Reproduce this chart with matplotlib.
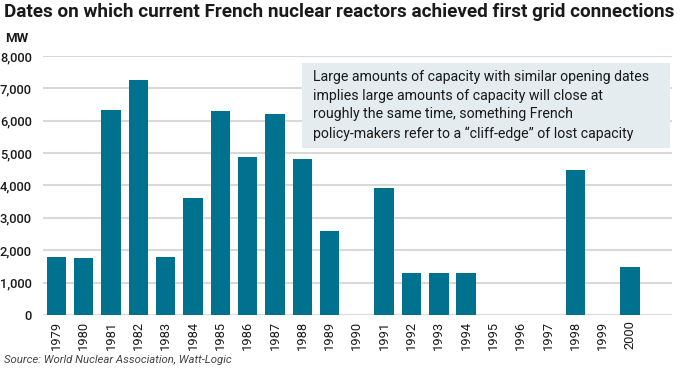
import matplotlib
matplotlib.use("Agg")
import matplotlib.pyplot as plt
from matplotlib.patches import Rectangle
from matplotlib.ticker import FuncFormatter

# Data
years = [str(y) for y in range(1979, 2001)]
capacity_mw = [1790, 1750, 6340, 7260, 1790, 3615, 6300, 4890, 6200, 4810, 2600,
               0, 3930, 1290, 1310, 1290, 0, 0, 0, 4480, 0, 1490]
y_ticks = [0, 1000, 2000, 3000, 4000, 5000, 6000, 7000, 8000]

title = "Dates on which current French nuclear reactors achieved first grid connections"
note = ("Large amounts of capacity with similar opening dates\n"
        "implies large amounts of capacity will close at\n"
        "roughly the same time, something French\n"
        "policy-makers refer to a \u201ccliff-edge\u201d of lost capacity")
source = "Source: World Nuclear Association, Watt-Logic"

plt.rcParams["font.family"] = ["Roboto", "DejaVu Sans"]

bar_color = "#00728f"
grid_color = "#d9d9d9"
text_color = "#1a1a1a"

fig = plt.figure(figsize=(6.8, 3.72), dpi=100)
ax = fig.add_axes([0.0632, 0.1532, 0.9248, 0.6963])

x = list(range(len(years)))
ax.bar(x, capacity_mw, width=0.71, color=bar_color, zorder=3)

ax.set_xlim(-0.49, 22.53)
ax.set_ylim(0, 8000)
ax.set_yticks(y_ticks)
ax.yaxis.set_major_formatter(FuncFormatter(lambda v, p: f"{int(v):,}"))
ax.set_xticks(x)
ax.set_xticklabels(years, rotation=90)
ax.tick_params(axis="both", length=0, labelsize=9.3, colors=text_color)
ax.tick_params(axis="y", pad=8)
ax.tick_params(axis="x", pad=4)
ax.yaxis.grid(True, color=grid_color, linewidth=1.5, zorder=0)
ax.set_axisbelow(True)
for s in ax.spines.values():
    s.set_visible(False)
for lbl in ax.get_yticklabels():
    lbl.set_fontweight("medium")

fig.text(0.006, 0.993, title, fontsize=13.6, fontweight="bold", color=text_color,
         ha="left", va="top")
fig.text(0.008, 0.915, "MW", fontsize=9.5, fontweight="bold", color=text_color,
         ha="left", va="top")
fig.text(0.006, 0.02, source, fontsize=8.2, style="italic", color="#444444",
         ha="left", va="bottom")

# annotation box
fig.patches.append(Rectangle((0.444, 0.602), 0.541, 0.2285, transform=fig.transFigure,
                             facecolor="#e4ecef", edgecolor="none", zorder=5))
fig.text(0.460, 0.812, note, fontsize=10.2, color=text_color, ha="left", va="top",
         linespacing=1.42, zorder=6)

fig.savefig("out.png", dpi=100)
